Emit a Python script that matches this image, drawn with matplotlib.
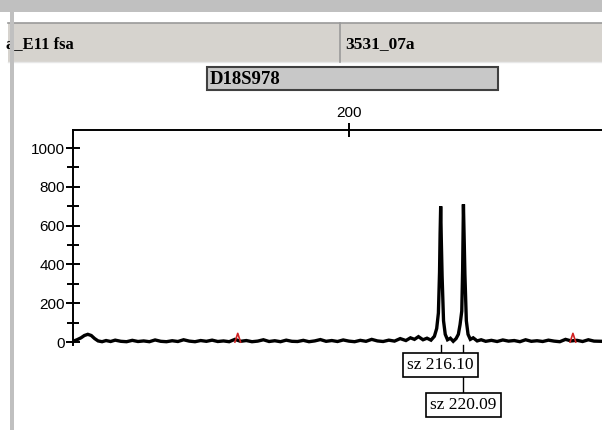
import matplotlib.pyplot as plt
import matplotlib.transforms as mtransforms
from matplotlib.patches import Rectangle

# trace (size in bp, height in RFU)
sizes = [151.6, 152.3, 153.0, 153.6, 154.2, 154.8, 155.4, 156.0, 156.7, 157.4,
         158.2, 159.0, 160.0, 161.0, 162.0, 163.0, 164.0, 165.0, 166.0, 167.0,
         168.0, 169.0, 170.0, 171.0, 172.0, 173.0, 174.0, 175.0, 176.0, 177.0,
         178.0, 179.0, 180.0, 181.0, 182.0, 183.0, 184.0, 185.0, 186.0, 187.0,
         188.0, 189.0, 190.0, 191.0, 192.0, 193.0, 194.0, 195.0, 196.0, 197.0,
         198.0, 199.0, 200.0, 201.0, 202.0, 203.0, 204.0, 205.0, 206.0, 207.0,
         208.0, 209.0, 210.0, 210.8, 211.5, 212.2, 213.0, 213.7, 214.4, 215.0,
         215.4, 215.7, 215.9, 216.0, 216.1, 216.2, 216.35, 216.6, 216.9, 217.3,
         217.8, 218.3, 218.8, 219.2, 219.5, 219.8, 219.95, 220.09, 220.2, 220.35,
         220.6, 220.9, 221.3, 221.8, 222.5, 223.2, 224.0, 225.0, 226.0, 227.0,
         228.0, 229.0, 230.0, 231.0, 232.0, 233.0, 234.0, 235.0, 236.0, 237.0,
         238.0, 239.0, 240.0, 241.0, 242.0, 243.0, 244.4]
rfu = [4, 12, 22, 34, 40, 34, 18, 6, 2, 8,
       3, 10, 4, 2, 9, 3, 6, 2, 11, 4,
       2, 7, 3, 12, 5, 2, 8, 4, 10, 3,
       6, 2, 14, 4, 8, 2, 5, 12, 3, 7,
       2, 10, 4, 3, 9, 2, 6, 13, 4, 8,
       3, 11, 5, 2, 9, 4, 14, 6, 3, 10,
       5, 18, 8, 22, 14, 28, 12, 20, 10, 30,
       70, 150, 360, 560, 700, 540, 340, 110, 40, 12,
       20, 4, 18, 40, 90, 160, 370, 710, 560, 350,
       110, 40, 14, 22, 6, 12, 4, 9, 3, 11,
       5, 8, 2, 12, 4, 7, 3, 10, 5, 2,
       14, 6, 9, 3, 12, 5, 4]

# size-standard marks (red)
std_x = [180.5, 239.3]
std_h = [45, 45]

peak_labels = ["sz 216.10", "sz 220.09"]
peak_x = [216.10, 220.09]

W, H = 602, 430
fig = plt.figure(figsize=(W / 100, H / 100), dpi=100)
fig.patch.set_facecolor("white")


def fx(px):
    return px / W


def fy(py):
    return 1 - py / H


# window frame and header
fig.patches.append(Rectangle((0, fy(12)), 1, 12 / H, transform=fig.transFigure,
                             facecolor="#c0c0c0", edgecolor="none", zorder=5))
fig.patches.append(Rectangle((fx(10), 0), 4 / W, fy(12), transform=fig.transFigure,
                             facecolor="#c0c0c0", edgecolor="none", zorder=5))
fig.patches.append(Rectangle((fx(8), fy(62)), 1, 39 / H, transform=fig.transFigure,
                             facecolor="#d6d3ce", edgecolor="none", zorder=1))
fig.add_artist(plt.Line2D([fx(8), 1], [fy(23), fy(23)], color="#9a9a9a", lw=1.2, zorder=2))
fig.add_artist(plt.Line2D([fx(8), 1], [fy(62), fy(62)], color="#e8e8e8", lw=1, zorder=2))
fig.add_artist(plt.Line2D([fx(340), fx(340)], [fy(23), fy(62)], color="#9a9a9a", lw=1.2, zorder=2))
fig.text(fx(6), fy(44), "a_E11 fsa", family="Liberation Serif", weight="bold",
         fontsize=12, va="center", ha="left", zorder=3)
fig.text(fx(345), fy(44), "3531_07a", family="Liberation Serif", weight="bold",
         fontsize=12.5, va="center", ha="left", zorder=3)

# marker bin box
fig.patches.append(Rectangle((fx(207), fy(90)), 291 / W, 23 / H, transform=fig.transFigure,
                             facecolor="#c8c8c8", edgecolor="#404040", lw=1.5, zorder=2))
fig.text(fx(210), fy(79), "D18S978", family="Liberation Serif", weight="bold",
         fontsize=13.5, va="center", ha="left", zorder=3)

# electropherogram
ax = fig.add_axes([fx(73), fy(345), 1 - fx(73), (345 - 130) / H])
ax.plot(sizes, rfu, color="black", lw=2.4, solid_joinstyle="miter")
for x, h in zip(std_x, std_h):
    ax.plot([x - 0.5, x, x + 0.5], [0, h, 0], color="#d02020", lw=1.2)
ax.set_xlim(151.6, 244.4)
ax.set_ylim(-15, 1093)

ax.spines["bottom"].set_visible(False)
ax.spines["right"].set_visible(False)
ax.spines["left"].set_linewidth(1.4)
ax.spines["top"].set_linewidth(1.4)

ax.set_yticks([0, 200, 400, 600, 800, 1000])
ax.set_yticks([100, 300, 500, 700, 900], minor=True)
ax.tick_params(axis="y", which="major", direction="inout", length=10, width=1.4,
               labelsize=11, pad=1)
ax.tick_params(axis="y", which="minor", direction="inout", length=8, width=1.4)
ax.xaxis.tick_top()
ax.set_xticks([200])
ax.tick_params(axis="x", which="major", direction="inout", length=10, width=1.4,
               labelsize=11, pad=2)
for lab in ax.get_xticklabels() + ax.get_yticklabels():
    lab.set_family("Liberation Sans")

# peak label boxes below the trace
tr = mtransforms.blended_transform_factory(ax.transData, fig.transFigure)
fig.add_artist(plt.Line2D([peak_x[0], peak_x[0]], [fy(345), fy(353)], transform=tr,
                          color="black", lw=1, zorder=6))
fig.add_artist(plt.Line2D([peak_x[1], peak_x[1]], [fy(345), fy(393)], transform=tr,
                          color="black", lw=1, zorder=6))
for lab, x, py in zip(peak_labels, peak_x, [365, 405]):
    fig.text(x, fy(py), lab, transform=tr, family="Liberation Serif", fontsize=12.5,
             ha="center", va="center", zorder=7,
             bbox=dict(boxstyle="square,pad=0.25", facecolor="white",
                       edgecolor="black", lw=1.2))

fig.savefig("out.png", dpi=100)
